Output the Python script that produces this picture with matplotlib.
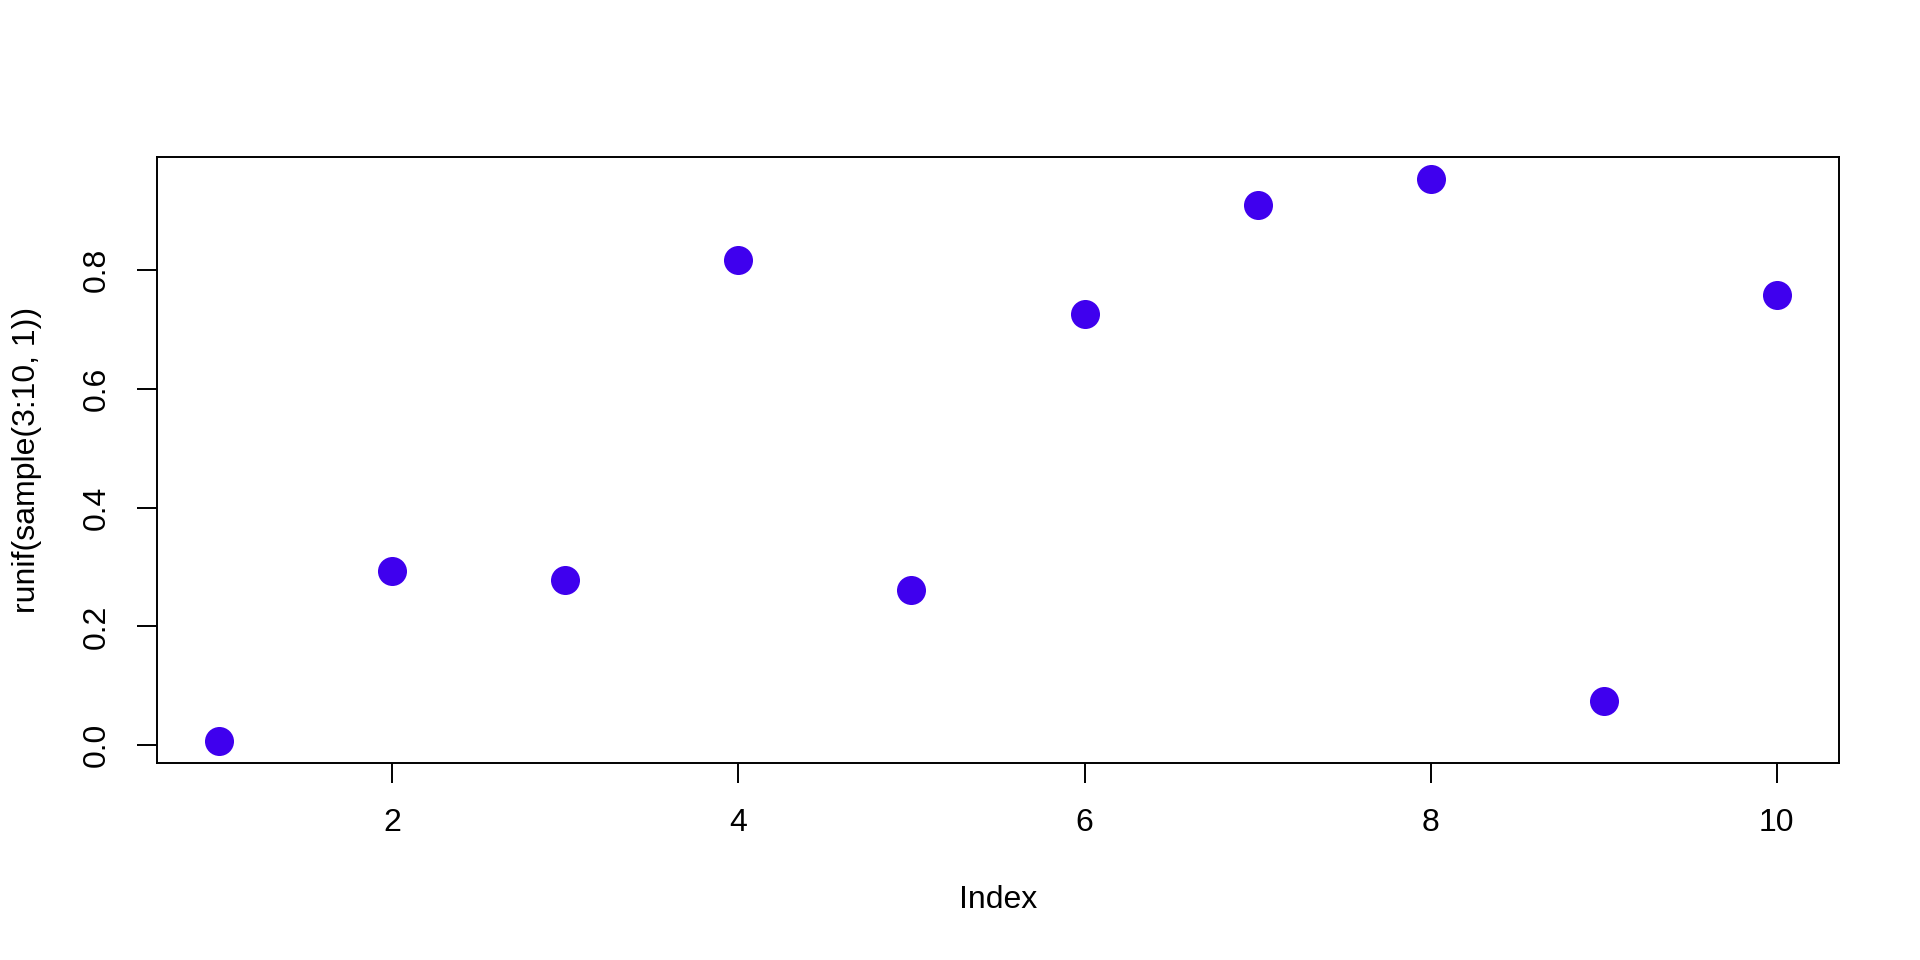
import numpy as np
import matplotlib.pyplot as plt

# Values
index = [1, 2, 3, 4, 5, 6, 7, 8, 9, 10]
values = [0.008, 0.294, 0.278, 0.816, 0.261, 0.726, 0.909, 0.952, 0.074, 0.757]
x_ticks = [2, 4, 6, 8, 10]
y_ticks = [0.0, 0.2, 0.4, 0.6, 0.8]

plt.rcParams['font.family'] = ['Liberation Sans', 'DejaVu Sans']

fig = plt.figure(figsize=(19.2, 9.6), dpi=100)
W, H = 1920, 960
left, right, top, bottom = 157, 1839, 157, 763
ax = fig.add_axes([left / W, 1 - bottom / H, (right - left) / W, (bottom - top) / H])

ax.plot(index, values, linestyle='none', marker='o', markersize=20.9,
        color='#3F00EE', markeredgewidth=0)

# R style axis ranges (4% padding)
xr = max(index) - min(index)
yr = max(values) - min(values)
ax.set_xlim(min(index) - 0.04 * xr, max(index) + 0.04 * xr)
ax.set_ylim(min(values) - 0.04 * yr, max(values) + 0.04 * yr)

ax.set_xticks(x_ticks)
ax.set_xticklabels([str(t) for t in x_ticks])
ax.set_yticks(y_ticks)
ax.set_yticklabels([f'{t:.1f}' for t in y_ticks], rotation=90, va='center')

for s in ax.spines.values():
    s.set_linewidth(1.4)
ax.tick_params(axis='both', length=14.4, width=1.4, labelsize=23, color='black')
ax.tick_params(axis='x', pad=18)
ax.tick_params(axis='y', pad=18)

ax.set_xlabel('Index', fontsize=23)
ax.set_ylabel('runif(sample(3:10, 1))', fontsize=23)
ax.xaxis.set_label_coords(0.5, (bottom - 900) / (bottom - top))
ax.xaxis.label.set_va('center')
ax.yaxis.set_label_coords((27 - left) / (right - left), 0.5)
ax.yaxis.label.set_va('center')

fig.savefig('out.png', dpi=100)
